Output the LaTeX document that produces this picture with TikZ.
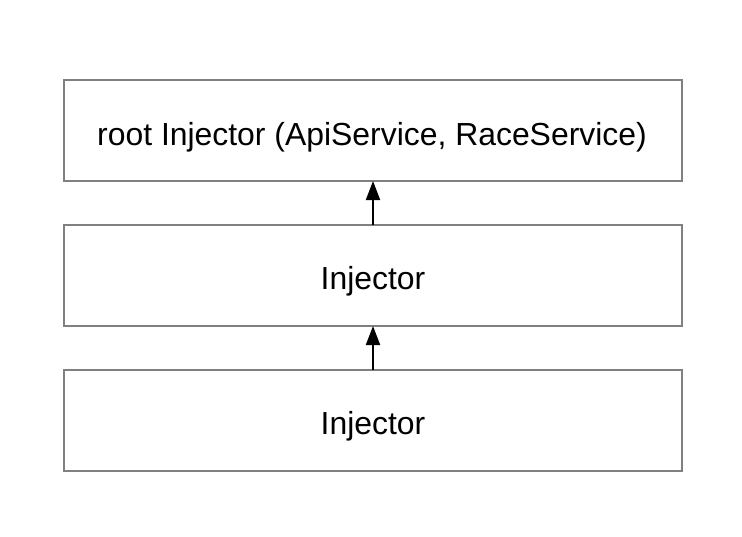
\documentclass[tikz,border=0pt]{standalone}
\usepackage{fontspec}
\setmainfont{Liberation Sans}
\usetikzlibrary{arrows.meta}
\begin{document}
\begin{tikzpicture}[x=1pt,y=-1pt,
  box/.style={draw=boxgray,line width=1.3pt},
  lbl/.style={anchor=base,inner sep=0pt,font=\fontsize{31.9}{38}\selectfont},
  arr/.style={line width=2pt,-{Triangle[length=19pt,width=14pt]}}]
\definecolor{boxgray}{RGB}{128,128,128}
\useasboundingbox (0,0) rectangle (742,536);
\draw[box] (64,80) rectangle (682,181);
\draw[box] (64,225) rectangle (682,326);
\draw[box] (64,370) rectangle (682,471);
\coordinate (b1) at (373,181);
\coordinate (t2) at (373,225);
\coordinate (b2) at (373,326);
\coordinate (t3) at (373,370);
\node[lbl] (l1) at (372,145) {root Injector (ApiService, RaceService)};
\node[lbl] (l2) at (373,289) {Injector};
\node[lbl] (l3) at (373,434) {Injector};
\draw[arr] (t2) -- (b1);
\draw[arr] (t3) -- (b2);
\end{tikzpicture}
\end{document}
